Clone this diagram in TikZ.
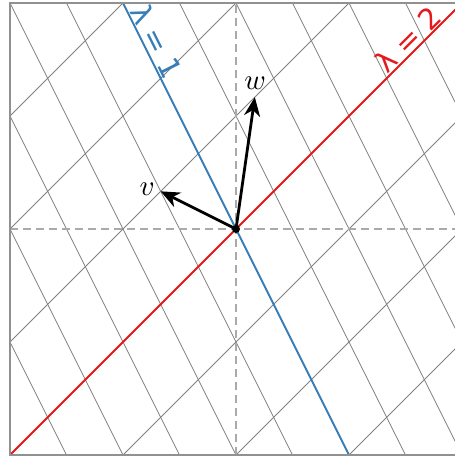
\documentclass[tikz,border=0pt]{standalone}
\usepackage{fontspec}
\usepackage{graphicx}
\newfontfamily\lamfont{DejaVu Sans}
\usetikzlibrary{arrows.meta}
\definecolor{eigblue}{RGB}{55,126,184}
\definecolor{eigred}{RGB}{228,26,28}
\definecolor{gridgray}{RGB}{128,128,128}
\definecolor{axisgray}{RGB}{170,170,170}
\definecolor{framegray}{RGB}{145,145,145}
\tikzset{
  gridline/.style={draw=gridgray, line width=0.75pt},
  axisline/.style={draw=axisgray, line width=1.3pt, dash pattern=on 8pt off 5pt},
  eigline/.style={line width=2pt},
  vecarrow/.style={draw=black, line width=2.8pt, -{Stealth[length=19pt,width=16pt,inset=6pt]}},
  lamlabel/.style={font=\lamfont\fontsize{29}{32}\selectfont, inner sep=0pt},
  veclabel/.style={inner sep=0pt},
}
\begin{document}
\begin{tikzpicture}[x=113pt,y=113pt]
\useasboundingbox (-2.0885,-2.009) rectangle (1.938,2.0265);
\begin{scope}
\clip (-2,-2) rectangle (2,2);
% family parallel to (1,1): y = x + c
\foreach \ya/\yb in {-7/-1,-6/0,-5/1,-4/2,-3/3,-2/4,-1/5,0/6,1/7} {
  \draw[gridline] (-3,\ya) -- (3,\yb);
}
% family parallel to (-1,2): 2x + y = d
\foreach \xa/\xb in {-4.5/-1.5,-4/-1,-3.5/-0.5,-3/0,-2.5/0.5,-2/1,-1.5/1.5,-1/2,-0.5/2.5,0/3,0.5/3.5,1/4,1.5/4.5} {
  \draw[gridline] (\xa,3) -- (\xb,-3);
}
\coordinate (O) at (0,0);
\draw[axisline] (-2,0) -- (2,0);
\draw[axisline] (0,-2) -- (0,2);
\draw[eigline, eigblue] (-1.5,3) -- (1.5,-3);
\draw[eigline, eigred] (-3,-3) -- (3,3);
\end{scope}
\draw[draw=framegray, line width=1.3pt] (-2,-2) rectangle (2,2);
\coordinate (v) at (-2/3,1/3);
\coordinate (w) at (1/6,7/6);
\draw[vecarrow] (O) -- (v);
\draw[vecarrow] (O) -- (w);
\fill[black] (O) circle (4pt);
\node[lamlabel, text=eigblue, rotate=-63.43] (l1) at (-0.70,1.66) {λ = 1};
\node[lamlabel, text=eigred, rotate=45] (l2) at (1.52,1.68) {λ = 2};
\node[veclabel] (lv) at (-0.785,0.35) {\scalebox{2.9}{$v$}};
\node[veclabel] (lw) at (0.17,1.29) {\scalebox{2.9}{$w$}};
\end{tikzpicture}
\end{document}
